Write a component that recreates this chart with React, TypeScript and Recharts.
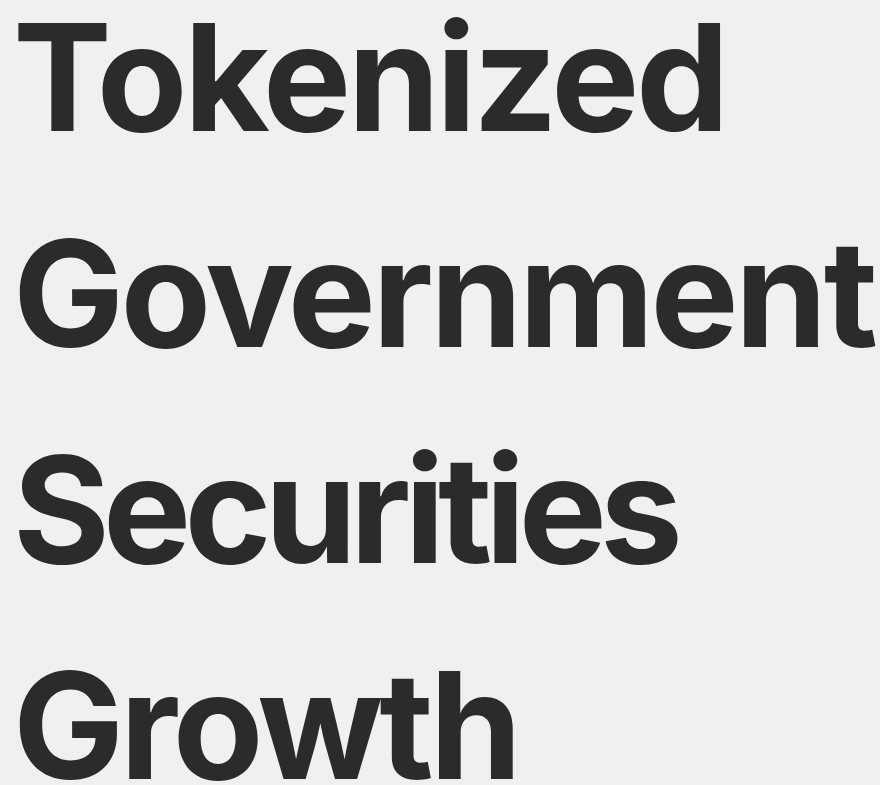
import React from "react";
import { Surface, Text } from "recharts";

const titleLines = ["Tokenized", "Government", "Securities", "Growth"];

const WIDTH = 880;
const HEIGHT = 785;

// per-line tracking, tuned by eye against the reference widths
const tracking: Record<string, number> = {
  Tokenized: -3.5,
  Government: -3.5,
  Securities: -6.8,
  Growth: -4,
};

export default function App() {
  return (
    <div style={{ width: WIDTH, height: HEIGHT, background: "#f0f0f0" }}>
      <style>{`body{margin:0;background:#f0f0f0}`}</style>
      <Surface width={WIDTH} height={HEIGHT} viewBox={{ x: 0, y: 0, width: WIDTH, height: HEIGHT }}>
        <rect x={0} y={0} width={WIDTH} height={HEIGHT} fill="#f0f0f0" />
        {titleLines.map((line, i) => (
          <Text
            key={line}
            x={13}
            y={131 + i * 216}
            textAnchor="start"
            verticalAnchor="end"
            fontFamily="Inter, 'Liberation Sans', Arial, sans-serif"
            fontWeight={700}
            fontSize={148}
            fill="#2b2b2b"
            style={{ letterSpacing: `${tracking[line] ?? -4}px` }}
          >
            {line}
          </Text>
        ))}
      </Surface>
    </div>
  );
}
